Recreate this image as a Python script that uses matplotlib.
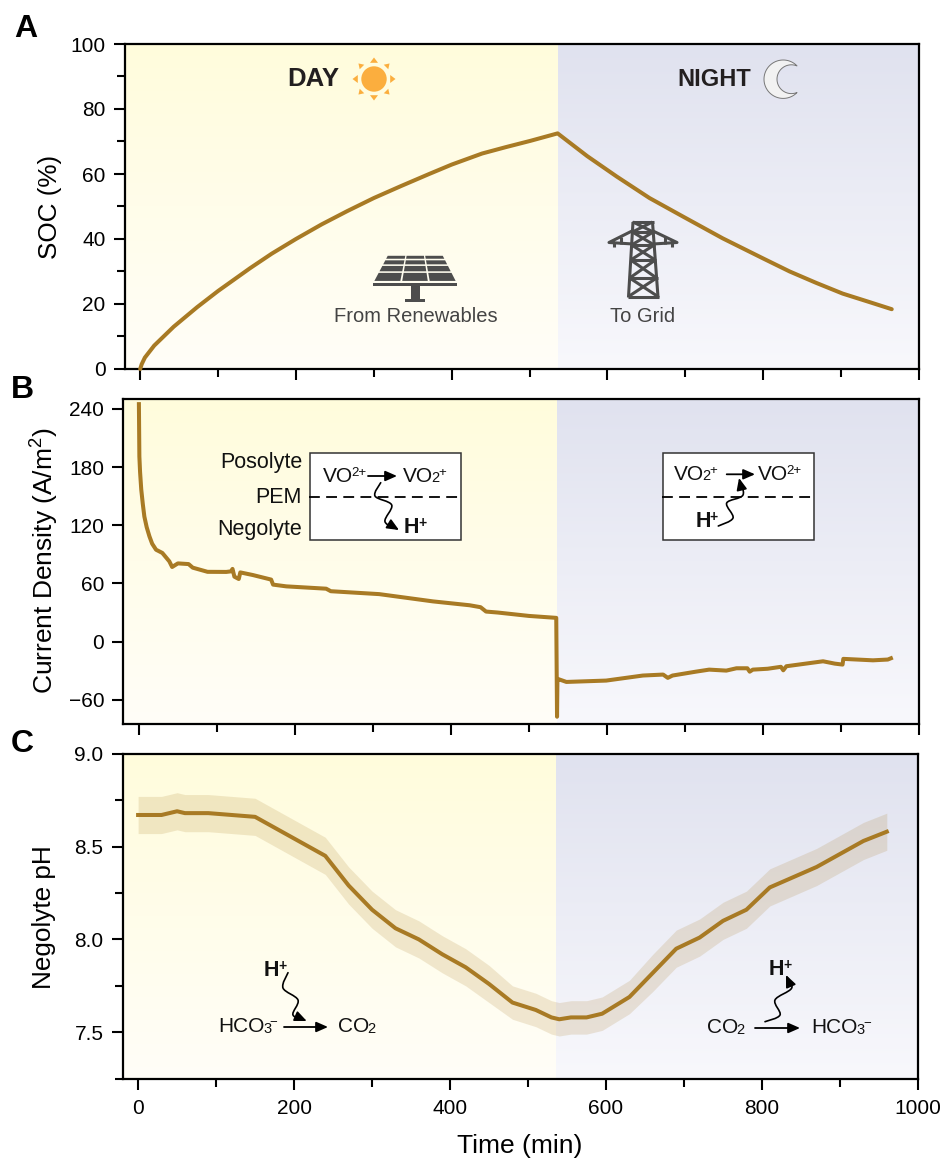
import numpy as np
import matplotlib
matplotlib.use('Agg')
import matplotlib.pyplot as plt
from matplotlib.patches import Circle, FancyArrowPatch, Polygon, Rectangle
from matplotlib.path import Path
from matplotlib.ticker import MultipleLocator

plt.rcParams['font.family'] = ['Liberation Sans', 'DejaVu Sans']
plt.rcParams['mathtext.fontset'] = 'custom'
plt.rcParams['mathtext.rm'] = 'Liberation Sans'
plt.rcParams['mathtext.default'] = 'regular'

# data
soc_time = [0, 2, 6, 18, 43, 73, 100, 141, 169, 200, 233, 266, 300, 335, 371, 400, 439, 470, 501, 536,
            574, 612, 654, 697, 748, 800, 834, 868, 902, 935, 965]
soc_vals = [0, 1.5, 3.5, 7.2, 13, 19, 24, 31, 35.5, 40, 44.5, 48.6, 52.6, 56.3, 60, 62.9, 66.3, 68.3, 70.2, 72.5,
            65.5, 59.2, 52.6, 46.9, 40.2, 34, 30, 26.5, 23.2, 20.7, 18.4]

cur_time = [0, 0.6, 1.5, 3, 5, 7, 10, 13.5, 17, 22, 30, 39, 42.6, 50, 63.7, 69, 88, 112, 118, 120, 122.4,
            128, 130, 146, 169.5, 172, 189, 240, 246, 308, 377, 424, 438, 445, 460, 500, 535,
            536, 536.5, 537, 548, 599, 646, 672, 678, 684, 714, 731, 753, 766, 780, 783, 787,
            806, 823, 826, 830, 877, 892, 902, 903, 941, 960, 964]
cur_vals = [245, 191, 175, 157, 142, 129, 118, 108.6, 101, 94.8, 91.5, 82.8, 77, 80.7, 80, 76.3, 72, 71.9, 72.5, 75, 67,
            64.6, 71.4, 68.7, 64, 58.8, 57, 54.6, 52, 49, 41.5, 37.5, 35.5, 31, 30, 26.5, 24.5,
            -77.5, -38.5, -38.5, -41.6, -40.2, -35, -34, -37.4, -35, -31, -28.9, -29.9, -27.5, -27.5, -31, -28.9,
            -28, -26, -29.6, -25.4, -20.3, -22.7, -23.7, -17.8, -19.3, -18.5, -17.2]

ph_time = [0, 30, 50, 60, 90, 150, 240, 270, 300, 330, 360, 390, 420, 450, 480, 510, 530, 540,
           555, 575, 595, 630, 660, 690, 720, 750, 780, 810, 870, 900, 930, 960]
ph_vals = [8.67, 8.67, 8.69, 8.68, 8.68, 8.66, 8.45, 8.29, 8.16, 8.06, 8.00, 7.92, 7.85, 7.76, 7.66, 7.62, 7.58, 7.57,
           7.58, 7.58, 7.60, 7.69, 7.82, 7.95, 8.01, 8.10, 8.16, 8.28, 8.39, 8.46, 8.53, 8.58]
ph_err = [0.10, 0.10, 0.10, 0.10, 0.10, 0.10, 0.10, 0.10, 0.10, 0.10, 0.10, 0.10, 0.10, 0.10, 0.09, 0.09, 0.09, 0.09,
          0.09, 0.09, 0.09, 0.09, 0.10, 0.10, 0.10, 0.10, 0.10, 0.10, 0.10, 0.10, 0.10, 0.10]

x_major = [0, 200, 400, 600, 800, 1000]
cur_ticks = [-60, 0, 60, 120, 180, 240]
ph_ticks = [7.5, 8.0, 8.5, 9.0]
ph_tick_labels = ['7.5', '8.0', '8.5', '9.0']
switch_time = 536

W, H = 943, 1160
LINE = '#A87A24'
INK = '#4D4D4D'

fig = plt.figure(figsize=(W / 100, H / 100), dpi=100)


def make_axes(left, right, top, bottom, ylim):
    ax = fig.add_axes([left / W, 1 - bottom / H, (right - left) / W, (bottom - top) / H])
    for x0, x1, c_top, c_bot in [(-20, switch_time, (255, 252, 220), (255, 254, 248)),
                                 (switch_time, 1000, (224, 226, 239), (248, 248, 252))]:
        grad = np.linspace(np.array(c_top), np.array(c_bot), 200)[:, None, :] / 255
        ax.imshow(grad, extent=[x0, x1, ylim[0], ylim[1]], aspect='auto', zorder=0, interpolation='bilinear')
    ax.set_xlim(-20, 1000)
    ax.set_ylim(*ylim)
    for s in ax.spines.values():
        s.set_linewidth(1.6)
    ax.xaxis.set_major_locator(MultipleLocator(200))
    ax.xaxis.set_minor_locator(MultipleLocator(100))
    ax.tick_params(which='major', length=8.2, width=1.5, labelsize=15, pad=5.5)
    ax.tick_params(which='minor', length=6, width=1.5)
    ax.tick_params(axis='x', which='major', pad=6.5)
    return ax


# A
ax1 = make_axes(124.6, 919, 44, 369, (0, 100))
ax1.plot(soc_time, soc_vals, color=LINE, lw=2.9, solid_capstyle='round', zorder=3, clip_on=False)
ax1.yaxis.set_major_locator(MultipleLocator(20))
ax1.yaxis.set_minor_locator(MultipleLocator(10))
ax1.tick_params(axis='x', labelbottom=False)

# B
ax2 = make_axes(123.3, 919, 399.3, 724, (-85, 250))
ax2.plot(cur_time, cur_vals, color=LINE, lw=2.9, solid_joinstyle='round', zorder=3)
ax2.set_yticks(cur_ticks)
ax2.tick_params(axis='x', labelbottom=False)

# C
ax3 = make_axes(122.5, 918, 753.7, 1078.7, (7.25, 9.0))
ph_vals = np.array(ph_vals)
ph_err = np.array(ph_err)
ax3.fill_between(ph_time, ph_vals - ph_err, ph_vals + ph_err, color=LINE, alpha=0.17, lw=0, zorder=2)
ax3.plot(ph_time, ph_vals, color=LINE, lw=2.9, zorder=3)
ax3.set_yticks(ph_ticks)
ax3.set_yticklabels(ph_tick_labels)
ax3.yaxis.set_minor_locator(MultipleLocator(0.25))
ax3.set_xticks(x_major)

# overlay in pixel coordinates for the labels and drawn icons
ov = fig.add_axes([0, 0, 1, 1], zorder=10)
ov.set_xlim(0, W)
ov.set_ylim(H, 0)
ov.axis('off')

for letter, x, y in [('A', 14, 37), ('B', 11, 398), ('C', 11, 752)]:
    ov.text(x, y, letter, fontsize=23, fontweight='bold', color='black', va='baseline', ha='left')

ov.text(50, 207, 'SOC (%)', fontsize=18.8, rotation=90, ha='center', va='center')
ov.text(45, 561, 'Current Density (A/m$^2$)', fontsize=19, rotation=90, ha='center', va='center')
ov.text(44.5, 917, 'Negolyte pH', fontsize=18.8, rotation=90, ha='center', va='center')
ov.text(519.5, 1146, 'Time (min)', fontsize=19, ha='center', va='center')

ov.text(287.5, 79, 'DAY', fontsize=18.5, fontweight='bold', color='#231F20', va='center', ha='left')
ov.text(677.7, 79, 'NIGHT', fontsize=17, fontweight='bold', color='#231F20', va='center', ha='left')
ov.text(415.5, 317, 'From Renewables', fontsize=14.5, color='#444444', ha='center', va='center')
ov.text(642.7, 317, 'To Grid', fontsize=14.5, color='#444444', ha='center', va='center')


def sun(cx, cy):
    ov.add_patch(Circle((cx, cy), 12.7, fc='#FBAE3E', ec='none'))
    for i in range(8):
        a = i * np.pi / 4
        u = np.array([np.cos(a), np.sin(a)])
        v = np.array([-u[1], u[0]])
        c = np.array([cx, cy])
        r0, r1, w = (16.2, 21.5, 4) if i % 2 == 0 else (17, 22, 3.2)
        ov.add_patch(Polygon([c + u * r1, c + u * r0 + v * w, c + u * r0 - v * w], fc='#FBAE3E', ec='none'))


def moon(cx, cy):
    a1 = np.radians(np.linspace(44, 316, 80))
    a2 = np.radians(np.linspace(292.8, 67.2, 60))
    outer = np.c_[cx + 19.2 * np.cos(a1), cy + 19.2 * np.sin(a1)]
    inner = np.c_[cx + 8.2 + 14.4 * np.cos(a2), cy + 14.4 * np.sin(a2)]
    ov.add_patch(Polygon(np.r_[outer, inner], fc='#F2F2F2', ec='#777777', lw=0.7))


def solar_panel():
    top = (387.5, 443, 255)
    bot = (373, 457, 281.7)
    rows = [0, 0.17, 0.38, 0.64, 1.0]
    cols = [0, 0.335, 0.665, 1.0]
    gap = 0.8

    def pt(u, v):
        l = top[0] + (bot[0] - top[0]) * v
        r = top[1] + (bot[1] - top[1]) * v
        return (l + (r - l) * u, top[2] + (bot[2] - top[2]) * v)

    for i in range(4):
        for j in range(3):
            v0, v1 = rows[i], rows[i + 1]
            u0, u1 = cols[j], cols[j + 1]
            du = gap / 70
            dv = gap / 27
            ov.add_patch(Polygon([pt(u0 + du, v0 + dv), pt(u1 - du, v0 + dv), pt(u1 - du, v1 - dv), pt(u0 + du, v1 - dv)],
                                 fc=INK, ec='none'))
    ov.add_patch(Rectangle((373, 283), 84, 3, fc=INK, ec='none'))
    ov.add_patch(Rectangle((411, 286), 9, 13, fc=INK, ec='none'))
    ov.add_patch(Rectangle((405, 299), 20, 3, fc=INK, ec='none'))


def tower():
    lw = 2.2

    def seg(*pts):
        xs, ys = zip(*pts)
        ov.plot(xs, ys, color=INK, lw=lw, solid_capstyle='butt')

    def leg_x(y, side):
        f = (y - 222) / 75
        return (633 - 4.5 * f) if side < 0 else (652.5 + 5.5 * f)

    levels = [222, 232, 245, 260, 278, 296.5]
    seg((leg_x(222, -1), 222), (leg_x(297.5, -1), 297.5))
    seg((leg_x(222, 1), 222), (leg_x(297.5, 1), 297.5))
    for k, y in enumerate(levels):
        seg((leg_x(y, -1) - 1, y), (leg_x(y, 1) + 1, y))
        if k < len(levels) - 1:
            y2 = levels[k + 1]
            seg((leg_x(y, -1), y), (leg_x(y2, 1), y2))
            seg((leg_x(y, 1), y), (leg_x(y2, -1), y2))
    seg((632, 231), (609, 242.5), (633, 244))
    seg((653, 231), (677, 242.5), (653, 244))
    seg((621, 237), (621, 244))
    seg((665, 237), (665, 244))
    seg((614, 243), (614, 247))
    seg((672, 243), (672, 247))


def curve_path(pts):
    # catmull-rom through the points, as bezier pieces
    p = np.array(pts, dtype=float)
    p = np.r_[[p[0]], p, [p[-1]]]
    verts = [p[1]]
    codes = [Path.MOVETO]
    for i in range(1, len(p) - 2):
        verts += [p[i] + (p[i + 1] - p[i - 1]) / 6, p[i + 1] - (p[i + 2] - p[i]) / 6, p[i + 1]]
        codes += [Path.CURVE4] * 3
    return Path(verts, codes)


def squiggle(pts):
    ov.add_patch(FancyArrowPatch(path=curve_path(pts), arrowstyle='-|>,head_length=0.55,head_width=0.24',
                                 mutation_scale=13, lw=1.2, color='black', shrinkA=0, shrinkB=0))


def arrow(x0, x1, y):
    ov.add_patch(FancyArrowPatch((x0, y), (x1, y), arrowstyle='-|>,head_length=0.5,head_width=0.22',
                                 mutation_scale=14, lw=1.3, color='black', shrinkA=0, shrinkB=0))


def box(x0, x1):
    ov.add_patch(Rectangle((x0, 453), x1 - x0, 87, fc='white', ec='#333333', lw=1.1))
    ov.plot([x0 - 1, x1 + 1], [496.7, 496.7], color='black', lw=1.3, dashes=(6, 3.5))


def chem(x, y, parts):
    # parts are (string, kind): n normal, sub, sup, or b bold with bold sup
    rend = fig.canvas.get_renderer()
    for s, kind in parts:
        size = {'n': 15, 'b': 15.5, 'sub': 10.5, 'sup': 9.5, 'bsup': 10}[kind]
        dy = {'n': 0, 'b': 0, 'sub': 0.5, 'sup': -6, 'bsup': -6}[kind]
        weight = 'bold' if kind in ('b', 'bsup') else 'normal'
        t = ov.text(x, y + dy, s, fontsize=size, fontweight=weight, color='#111111', ha='left', va='baseline')
        x += t.get_window_extent(rend).width - 1.5


VO2P = [('VO', 'n'), ('2', 'sub'), ('+', 'sup')]
VOP = [('VO', 'n'), ('2+', 'sup')]
HP = [('H', 'b'), ('+', 'bsup')]
HCO3 = [('HCO', 'n'), ('3', 'sub'), ('\u2212', 'sup')]
CO2 = [('CO', 'n'), ('2', 'sub')]

sun(374, 79)
moon(783.2, 79.2)
solar_panel()
tower()

box(309.7, 461)
box(662.7, 814)
for label, y in [('Posolyte', 468), ('PEM', 503), ('Negolyte', 535)]:
    ov.text(302, y, label, fontsize=15.5, ha='right', va='baseline', color='#111111')

chem(323, 481.7, VOP)
arrow(368, 397, 476)
chem(403, 481.7, VO2P)
squiggle([(380.7, 482.7), (375, 496), (391.7, 505), (385, 521.7), (399, 530)])
chem(404, 532.7, HP)

chem(674, 480, VO2P)
arrow(726.7, 755, 474.3)
chem(757.7, 480, VOP)
squiggle([(718.3, 526), (733, 518), (726.7, 503), (743, 495), (739, 478)])
chem(695.7, 527, HP)

chem(218.3, 1032.3, HCO3)
arrow(284, 328, 1027)
chem(338, 1032.3, CO2)
chem(264, 976, HP)
squiggle([(288, 972.7), (283, 988), (298, 1000), (293, 1015), (306.7, 1021)])

chem(706.7, 1033, CO2)
arrow(755, 800, 1028)
chem(811.7, 1033, HCO3)
chem(769, 975, HP)
squiggle([(765, 1021.7), (780, 1015), (775, 1000), (791.7, 988), (786, 975)])

fig.savefig('out.png', dpi=100)
